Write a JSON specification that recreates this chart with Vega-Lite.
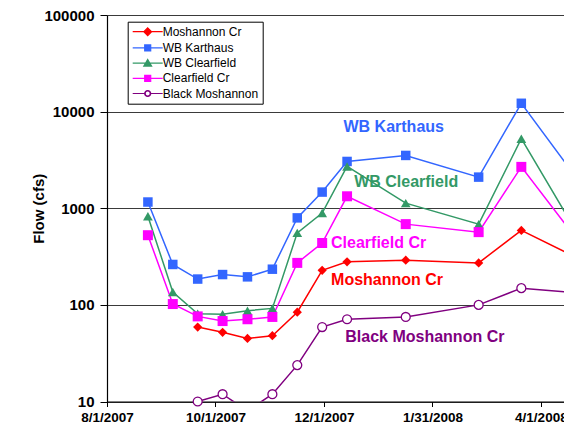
{
  "$schema": "https://vega.github.io/schema/vega-lite/v6.json",
  "width": 457,
  "height": 386.5,
  "autosize": {"type": "none"},
  "padding": {"left": 107, "top": 15, "right": 0, "bottom": 30.5},
  "background": "white",
  "config": {
    "view": {"stroke": null},
    "font": "Liberation Sans",
    "axis": {"labelFont": "Liberation Sans", "titleFont": "Liberation Sans", "labelColor": "black", "titleColor": "black", "domainColor": "black", "tickColor": "black"}
  },
  "datasets": {
    "flows": [
      {"series": "WB Karthaus", "date": "2007/08/24", "flow": 1160},
      {"series": "WB Karthaus", "date": "2007/09/07", "flow": 262},
      {"series": "WB Karthaus", "date": "2007/09/21", "flow": 185},
      {"series": "WB Karthaus", "date": "2007/10/05", "flow": 206},
      {"series": "WB Karthaus", "date": "2007/10/19", "flow": 195},
      {"series": "WB Karthaus", "date": "2007/11/02", "flow": 234},
      {"series": "WB Karthaus", "date": "2007/11/16", "flow": 795},
      {"series": "WB Karthaus", "date": "2007/11/30", "flow": 1470},
      {"series": "WB Karthaus", "date": "2007/12/14", "flow": 3050},
      {"series": "WB Karthaus", "date": "2008/01/16", "flow": 3520},
      {"series": "WB Karthaus", "date": "2008/02/26", "flow": 2100},
      {"series": "WB Karthaus", "date": "2008/03/21", "flow": 12200},
      {"series": "WB Karthaus", "date": "2008/04/23", "flow": 1840},
      {"series": "WB Clearfield", "date": "2007/08/24", "flow": 826},
      {"series": "WB Clearfield", "date": "2007/09/07", "flow": 136},
      {"series": "WB Clearfield", "date": "2007/09/21", "flow": 81},
      {"series": "WB Clearfield", "date": "2007/10/05", "flow": 80},
      {"series": "WB Clearfield", "date": "2007/10/19", "flow": 87},
      {"series": "WB Clearfield", "date": "2007/11/02", "flow": 92},
      {"series": "WB Clearfield", "date": "2007/11/16", "flow": 556},
      {"series": "WB Clearfield", "date": "2007/11/30", "flow": 893},
      {"series": "WB Clearfield", "date": "2007/12/14", "flow": 2710},
      {"series": "WB Clearfield", "date": "2008/01/16", "flow": 1130},
      {"series": "WB Clearfield", "date": "2008/02/26", "flow": 684},
      {"series": "WB Clearfield", "date": "2008/03/21", "flow": 5250},
      {"series": "WB Clearfield", "date": "2008/04/23", "flow": 495},
      {"series": "Clearfield Cr", "date": "2007/08/24", "flow": 526},
      {"series": "Clearfield Cr", "date": "2007/09/07", "flow": 102},
      {"series": "Clearfield Cr", "date": "2007/09/21", "flow": 76},
      {"series": "Clearfield Cr", "date": "2007/10/05", "flow": 68},
      {"series": "Clearfield Cr", "date": "2007/10/19", "flow": 71},
      {"series": "Clearfield Cr", "date": "2007/11/02", "flow": 75},
      {"series": "Clearfield Cr", "date": "2007/11/16", "flow": 272},
      {"series": "Clearfield Cr", "date": "2007/11/30", "flow": 437},
      {"series": "Clearfield Cr", "date": "2007/12/14", "flow": 1330},
      {"series": "Clearfield Cr", "date": "2008/01/16", "flow": 685},
      {"series": "Clearfield Cr", "date": "2008/02/26", "flow": 566},
      {"series": "Clearfield Cr", "date": "2008/03/21", "flow": 2680},
      {"series": "Clearfield Cr", "date": "2008/04/23", "flow": 432},
      {"series": "Moshannon Cr", "date": "2007/09/21", "flow": 59},
      {"series": "Moshannon Cr", "date": "2007/10/05", "flow": 52},
      {"series": "Moshannon Cr", "date": "2007/10/19", "flow": 45},
      {"series": "Moshannon Cr", "date": "2007/11/02", "flow": 48},
      {"series": "Moshannon Cr", "date": "2007/11/16", "flow": 84},
      {"series": "Moshannon Cr", "date": "2007/11/30", "flow": 228},
      {"series": "Moshannon Cr", "date": "2007/12/14", "flow": 279},
      {"series": "Moshannon Cr", "date": "2008/01/16", "flow": 290},
      {"series": "Moshannon Cr", "date": "2008/02/26", "flow": 272},
      {"series": "Moshannon Cr", "date": "2008/03/21", "flow": 590},
      {"series": "Moshannon Cr", "date": "2008/04/23", "flow": 296},
      {"series": "Black Moshannon", "date": "2007/09/21", "flow": 10},
      {"series": "Black Moshannon", "date": "2007/10/05", "flow": 11.9},
      {"series": "Black Moshannon", "date": "2007/10/19", "flow": 8},
      {"series": "Black Moshannon", "date": "2007/11/02", "flow": 11.9},
      {"series": "Black Moshannon", "date": "2007/11/16", "flow": 23.8},
      {"series": "Black Moshannon", "date": "2007/11/30", "flow": 59},
      {"series": "Black Moshannon", "date": "2007/12/14", "flow": 71},
      {"series": "Black Moshannon", "date": "2008/01/16", "flow": 75},
      {"series": "Black Moshannon", "date": "2008/02/26", "flow": 100},
      {"series": "Black Moshannon", "date": "2008/03/21", "flow": 149},
      {"series": "Black Moshannon", "date": "2008/04/23", "flow": 132}
    ],
    "labels": [
      {"series": "WB Karthaus", "label": "WB Karthaus", "date": "2007/12/12", "flow": 6890},
      {"series": "WB Clearfield", "label": "WB Clearfield", "date": "2007/12/18", "flow": 1855},
      {"series": "Clearfield Cr", "label": "Clearfield Cr", "date": "2007/12/05", "flow": 432},
      {"series": "Moshannon Cr", "label": "Moshannon Cr", "date": "2007/12/05", "flow": 180},
      {"series": "Black Moshannon", "label": "Black Moshannon Cr", "date": "2007/12/13", "flow": 46.7}
    ]
  },
  "encoding": {
    "x": {
      "field": "date", "type": "temporal",
      "scale": {"domain": [{"year": 2007, "month": 8, "date": 1}, {"year": 2008, "month": 4, "date": 14}]},
      "axis": {
        "title": null, "grid": false, "format": "%-m/%-d/%Y", "formatType": "time",
        "values": [{"year": 2007, "month": 8, "date": 1}, {"year": 2007, "month": 10, "date": 1}, {"year": 2007, "month": 12, "date": 1}, {"year": 2008, "month": 1, "date": 31}, {"year": 2008, "month": 4, "date": 1}],
        "labelFontSize": 13.5, "labelFontWeight": "bold", "tickSize": 5, "labelPadding": 4, "labelFlush": false, "labelOverlap": false, "domainWidth": 1.2
      }
    },
    "y": {
      "field": "flow", "type": "quantitative",
      "scale": {"type": "log", "domain": [10, 100000]},
      "axis": {
        "title": "Flow (cfs)", "titleFontSize": 15, "titleFontWeight": "bold", "titlePadding": -3,
        "values": [10, 100, 1000, 10000, 100000], "format": "d",
        "labelFontSize": 15, "labelFontWeight": "bold", "tickSize": 7, "labelPadding": 6,
        "grid": true, "gridColor": "#3a3a3a", "gridWidth": 1, "gridOpacity": 1, "domainWidth": 1.2
      }
    },
    "color": {
      "field": "series", "type": "nominal",
      "scale": {
        "domain": ["Moshannon Cr", "WB Karthaus", "WB Clearfield", "Clearfield Cr", "Black Moshannon"],
        "range": ["#ff0000", "#3366ff", "#339966", "#ff00ff", "#800080"]
      },
      "legend": {
        "title": null, "orient": "none", "legendX": 20.7, "legendY": 6.7, "direction": "vertical",
        "fillColor": "white", "strokeColor": "black", "padding": 4,
        "labelFont": "Liberation Sans", "labelFontSize": 12, "labelColor": "black",
        "symbolSize": 36, "symbolStrokeWidth": 1.2, "symbolOffset": 10, "labelOffset": 9, "rowPadding": 3.2,
        "encode": {
          "symbols": {
            "update": {
              "shape": {"signal": "datum.value === 'Moshannon Cr' ? 'M-5,0H5M0,-1.3L1.3,0L0,1.3L-1.3,0Z' : datum.value === 'WB Clearfield' ? 'M-5,0H5M0,-1.2L1.3,1L-1.3,1Z' : datum.value === 'Black Moshannon' ? 'M-5,0H-1M1,0H5M-1,0A1,1,0,1,1,1,0A1,1,0,1,1,-1,0ZM-0.85,0A0.85,0.85,0,1,0,0.85,0A0.85,0.85,0,1,0,-0.85,0Z' : 'M-5,0H5M-1,-1H1V1H-1Z'"},
              "fill": {"signal": "scale('color', datum.value)"},
              "stroke": {"signal": "scale('color', datum.value)"},
              "opacity": {"value": 1}
            }
          }
        }
      }
    }
  },
  "layer": [
    {
      "data": {"name": "flows"},
      "mark": {"type": "line", "strokeWidth": 1.5, "clip": true}
    },
    {
      "data": {"name": "flows"},
      "transform": [{"filter": "datum.series !== 'Black Moshannon' && datum.flow >= 10"}],
      "mark": {"type": "point", "filled": true, "opacity": 1, "strokeWidth": 0},
      "encoding": {
        "shape": {"field": "series", "type": "nominal", "scale": {"domain": ["Moshannon Cr", "WB Karthaus", "WB Clearfield", "Clearfield Cr"], "range": ["diamond", "square", "triangle-up", "square"]}, "legend": null},
        "size": {"field": "series", "type": "ordinal", "scale": {"domain": ["Moshannon Cr", "WB Karthaus", "WB Clearfield", "Clearfield Cr"], "range": [85, 100, 110, 64]}, "legend": null}
      }
    },
    {
      "data": {"name": "flows"},
      "transform": [{"filter": "datum.series === 'Black Moshannon' && datum.flow >= 10"}],
      "mark": {"type": "point", "shape": "circle", "filled": false, "fill": "white", "size": 80, "strokeWidth": 1.3, "opacity": 1}
    },
    {
      "data": {"name": "labels"},
      "mark": {"type": "text", "align": "left", "baseline": "middle", "fontSize": 16, "fontWeight": "bold", "font": "Liberation Sans"},
      "encoding": {"text": {"field": "label", "type": "nominal"}}
    }
  ]
}
